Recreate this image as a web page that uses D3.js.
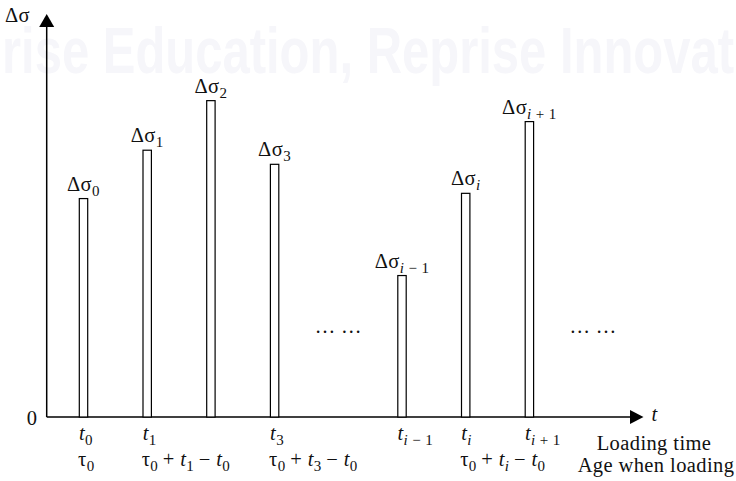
<!DOCTYPE html>
<html>
<head>
<meta charset="utf-8">
<script src="https://cdn.jsdelivr.net/npm/d3@7"></script>
<style>
  html, body { margin: 0; padding: 0; background: #fff; }
  svg { display: block; }
  .lbl { font-family: "Liberation Serif", "Times New Roman", serif; font-size: 20.5px; letter-spacing: 0.4px; fill: #111; }
</style>
</head>
<body>
<svg id="chart" width="736" height="481"></svg>
<script>
// Load pulses: slot position along the time axis and stress increment height
const slots = [0, 1, 2, 3, 5, 6, 7];
const increments = [54.2, 66.2, 78.5, 62.7, 35.1, 55.5, 73.3];
// subscript of each Δσ label (and of each loading time t)
const pulseSubs = ["0", "1", "2", "3", "i − 1", "i", "i + 1"];
// loading-time labels under the axis ("" = no label)
const timeSubs = ["0", "1", "", "3", "i − 1", "i", "i + 1"];
// age-at-loading labels under the axis: null = none, "τ0" = plain τ0, otherwise the t subscript
const ageSubs = ["τ0", "1", null, "3", null, "i", null];
// slots holding the ellipsis between pulse groups
const gapSlots = [4, 8];

const svg = d3.select("#chart");

const x = d3.scaleLinear().domain([0, 7]).range([83.5, 529.4]);
const y = d3.scaleLinear().domain([0, 100]).range([417, 14]);
const x0 = 46.7;          // vertical axis position
const xEnd = 643.5;       // tip of the time axis arrow

// faint background watermark
svg.append("text")
  .attr("x", 2).attr("y", 73)
  .attr("textLength", 732).attr("lengthAdjust", "spacingAndGlyphs")
  .style("font-family", "'Liberation Sans Narrow', 'Liberation Sans', sans-serif")
  .style("font-size", "64px")
  .style("font-weight", "bold")
  .style("fill", "#f6f6fa")
  .text("rise Education, Reprise Innovat");

const g = svg.append("g");

// axes
const line = d3.line();
g.append("path")
  .attr("d", line([[x0, y(0)], [x0, y(100) + 12]]))
  .attr("stroke", "#000").attr("stroke-width", 1.5).attr("fill", "none");
g.append("path")
  .attr("d", line([[x0, y(0)], [xEnd - 13, y(0)]]))
  .attr("stroke", "#000").attr("stroke-width", 1.5).attr("fill", "none");
// arrow heads
g.append("path")
  .attr("d", `M${x0 - 7.5},${y(100) + 13}L${x0},${y(100)}L${x0 + 7.5},${y(100) + 13}Z`)
  .attr("fill", "#000");
g.append("path")
  .attr("d", `M${xEnd - 13.5},${y(0) - 7}L${xEnd},${y(0)}L${xEnd - 13.5},${y(0) + 7}Z`)
  .attr("fill", "#000");

// axis captions
g.append("text").attr("class", "lbl").attr("x", 5).attr("y", 22).text("Δσ");
g.append("text").attr("class", "lbl").attr("x", 37.5).attr("y", 425)
  .attr("text-anchor", "end").text("0");
g.append("text").attr("class", "lbl").attr("x", 651.5).attr("y", 421)
  .style("font-style", "italic").text("t");
g.append("text").attr("class", "lbl").attr("x", 654).attr("y", 450)
  .attr("text-anchor", "middle").text("Loading time");
g.append("text").attr("class", "lbl").attr("x", 656).attr("y", 471.5)
  .attr("text-anchor", "middle").text("Age when loading");

// writes a lowered subscript; an "i" inside it is set in italics
function addSub(t, s) {
  s.split(/(i)/).filter(p => p !== "").forEach(p => {
    t.append("tspan")
      .attr("baseline-shift", "-4.5")
      .style("font-size", "15px")
      .style("font-style", p === "i" ? "italic" : null)
      .text(p);
  });
}

const bw = 8.4;
const data = slots.map((s, k) => ({ s, v: increments[k], sub: pulseSubs[k], ts: timeSubs[k], age: ageSubs[k] }));

// pulse bars
g.selectAll("rect.bar").data(data).join("rect")
  .attr("class", "bar")
  .attr("x", d => x(d.s) - bw / 2)
  .attr("y", d => y(d.v))
  .attr("width", bw)
  .attr("height", d => y(0) - y(d.v))
  .attr("fill", "#fff")
  .attr("stroke", "#000")
  .attr("stroke-width", 1.2);

// Δσ labels above bars
g.selectAll("text.top").data(data).join("text")
  .attr("class", "lbl top")
  .attr("x", d => x(d.s))
  .attr("y", d => y(d.v) - 8)
  .attr("text-anchor", "middle")
  .each(function (d) {
    const t = d3.select(this);
    t.append("tspan").text("Δσ");
    addSub(t, d.sub);
  });

// loading times t_k
g.selectAll("text.time").data(data.filter(d => d.ts !== "")).join("text")
  .attr("class", "lbl time")
  .attr("x", d => x(d.s) - 4.5)
  .attr("y", 440)
  .each(function (d) {
    const t = d3.select(this);
    t.append("tspan").style("font-style", "italic").text("t");
    addSub(t, d.ts);
  });

// ages at loading
g.selectAll("text.age").data(data.filter(d => d.age !== null)).join("text")
  .attr("class", "lbl age")
  .attr("x", d => x(d.s) - 5.5)
  .attr("y", 466)
  .each(function (d) {
    const t = d3.select(this);
    t.append("tspan").text("τ");
    addSub(t, "0");
    if (d.age === "τ0") return;
    t.append("tspan").text("\u2009+ ");
    t.append("tspan").style("font-style", "italic").text("t");
    addSub(t, d.age);
    t.append("tspan").text("\u2009− ");
    t.append("tspan").style("font-style", "italic").text("t");
    addSub(t, "0");
  });

// ellipses in the gaps
g.selectAll("text.gap").data(gapSlots).join("text")
  .attr("class", "lbl gap")
  .attr("x", d => x(d))
  .attr("y", 333)
  .attr("text-anchor", "middle")
  .text("… …");
</script>
</body>
</html>
